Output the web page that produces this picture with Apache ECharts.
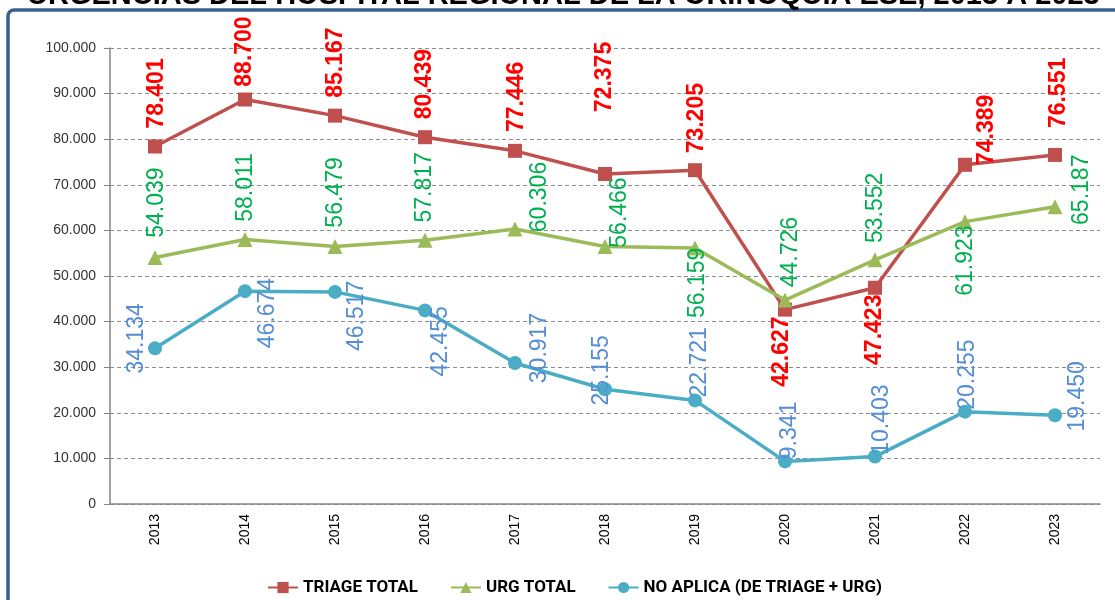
<!DOCTYPE html>
<html>
<head>
<meta charset="utf-8">
<title>Triage y urgencias 2013 - 2023</title>
<script src="https://cdn.jsdelivr.net/npm/echarts@6/dist/echarts.min.js"></script>
<style>
  html, body { margin: 0; padding: 0; background: #fff; }
  #chart { width: 1115px; height: 600px; }
</style>
</head>
<body>
<div id="chart"></div>
<script>
// datos
const years = ['2013', '2014', '2015', '2016', '2017', '2018', '2019', '2020', '2021', '2022', '2023']
const triageTotal = [78401, 88700, 85167, 80439, 77446, 72375, 73205, 42627, 47423, 74389, 76551]
const urgTotal = [54039, 58011, 56479, 57817, 60306, 56466, 56159, 44726, 53552, 61923, 65187]
const noAplica = [34134, 46674, 46517, 42455, 30917, 25155, 22721, 9341, 10403, 20255, 19450]
const yTicks = [0, 10000, 20000, 30000, 40000, 50000, 60000, 70000, 80000, 90000, 100000]

// desplazamiento de cada etiqueta (px en pantalla: derecha, abajo) respecto al punto
const triageLabelPos = [[2, -53], [0, -48], [1, -53], [0, -53], [2, -54], [0, -97], [2, -52], [-3, 42], [0, 42], [22, -35], [4, -62]]
const urgLabelPos = [[2, -55], [1, -52], [1, -54], [0, -53], [25, -32], [15, -34], [3, 35], [6, -48], [1, -52], [1, 39], [27, -17]]
const noAplicaLabelPos = [[-18, -10], [23, 22], [22, 24], [16, 31], [25, -15], [-3, -19], [5, -38], [5, -31], [7, -37], [3, -37], [23, -19]]

const fmt = v => String(v).replace(/\B(?=(\d{3})+(?!\d))/g, '.')

// la etiqueta gira 90 grados, el offset gira con ella
function withLabels(values, pos) {
  return values.map((v, i) => ({
    value: v,
    label: { offset: [-pos[i][1], pos[i][0]] }
  }))
}

function labelStyle(color, weight) {
  return {
    show: true,
    position: 'inside',
    rotate: 90,
    align: 'center',
    verticalAlign: 'middle',
    color: color,
    fontSize: 23,
    fontWeight: weight,
    fontFamily: 'Liberation Sans',
    formatter: p => fmt(p.value)
  }
}

const chart = echarts.init(document.getElementById('chart'), null, { renderer: 'canvas' })
chart.setOption({
  animation: false,
  backgroundColor: '#fff',
  title: {
    text: 'URGENCIAS DEL HOSPITAL REGIONAL DE LA ORINOQUIA ESE, 2013 A 2023',
    left: 22,
    top: -24,
    textStyle: { fontSize: 29, fontWeight: 'bold', color: '#000', fontFamily: 'Liberation Sans' }
  },
  graphic: [{
    type: 'rect',
    shape: { x: 8, y: 10, width: 1130, height: 620, r: 6 },
    style: { fill: null, stroke: '#3A6090', lineWidth: 3.5 },
    silent: true
  }],
  legend: {
    left: 262,
    top: 574,
    itemWidth: 30,
    itemHeight: 14,
    itemGap: 32,
    textStyle: { fontSize: 17, fontWeight: 'bold', color: '#000', fontFamily: 'Roboto' },
    data: ['TRIAGE TOTAL', 'URG TOTAL', 'NO APLICA (DE TRIAGE + URG)']
  },
  grid: { left: 110, right: 15, top: 48, bottom: 96 },
  xAxis: {
    type: 'category',
    data: years,
    boundaryGap: true,
    axisLine: { lineStyle: { color: '#868686', width: 1.5 } },
    axisTick: { length: 5, lineStyle: { color: '#868686' } },
    axisLabel: { rotate: 90, margin: 10, fontSize: 14, color: '#000', fontFamily: 'Liberation Sans' }
  },
  yAxis: {
    type: 'value',
    min: yTicks[0],
    max: yTicks[yTicks.length - 1],
    interval: yTicks[1] - yTicks[0],
    axisLine: { show: true, lineStyle: { color: '#868686', width: 1.5 } },
    axisTick: { show: true, length: 6, lineStyle: { color: '#868686' } },
    axisLabel: { fontSize: 14, color: '#333', margin: 14, fontFamily: 'Liberation Sans', formatter: v => fmt(v) },
    splitLine: { lineStyle: { type: [4, 3], color: '#8c8c8c', width: 1 } }
  },
  series: [{
    name: 'TRIAGE TOTAL',
    type: 'line',
    data: withLabels(triageTotal, triageLabelPos),
    symbol: 'rect',
    symbolSize: 14,
    lineStyle: { color: '#C0504D', width: 3.5 },
    itemStyle: { color: '#C0504D' },
    label: labelStyle('#FF0000', 'bold'),
    emphasis: { disabled: true }
  }, {
    name: 'URG TOTAL',
    type: 'line',
    data: withLabels(urgTotal, urgLabelPos),
    symbol: 'triangle',
    symbolSize: 15,
    lineStyle: { color: '#9BBB59', width: 3.5 },
    itemStyle: { color: '#9BBB59' },
    label: labelStyle('#00B050', 'normal'),
    emphasis: { disabled: true }
  }, {
    name: 'NO APLICA (DE TRIAGE + URG)',
    type: 'line',
    data: withLabels(noAplica, noAplicaLabelPos),
    symbol: 'circle',
    symbolSize: 14,
    lineStyle: { color: '#4BACC6', width: 3.5 },
    itemStyle: { color: '#4BACC6' },
    label: labelStyle('#558ED5', 'normal'),
    emphasis: { disabled: true }
  }]
})
window.addEventListener('resize', () => chart.resize())
</script>
</body>
</html>
